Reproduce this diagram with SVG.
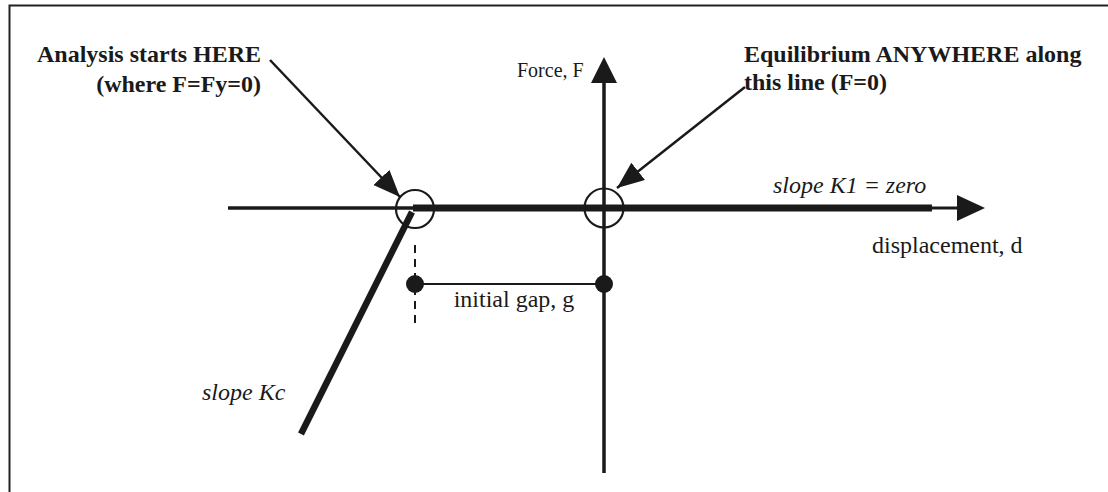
<svg xmlns="http://www.w3.org/2000/svg" width="1108" height="492" viewBox="0 0 1108 492">
<style>
.t{font-family:"Liberation Serif","Times New Roman",serif;fill:#1a1a1a;font-size:24px}
.b{font-weight:bold}
.i{font-style:italic}
.ax{stroke:#1a1a1a;fill:none}
.head{fill:#1a1a1a;stroke:none}
</style>
<defs>
<marker id="ah" markerUnits="userSpaceOnUse" markerWidth="30" markerHeight="24" refX="27" refY="11" orient="auto">
<path d="M0,0 L27,11 L0,22 Z" fill="#1a1a1a"/>
</marker>
</defs>
<rect width="1108" height="492" fill="#fff"/>
<path d="M9.5,492 V5.5 H1108" stroke="#222" stroke-width="2" fill="none"/>
<g id="axes">
<line class="ax" x1="228" y1="208" x2="413" y2="208" stroke-width="3.5"/>
<line class="ax" x1="413" y1="208" x2="932" y2="208" stroke-width="7"/>
<line class="ax" x1="930" y1="208" x2="962" y2="208" stroke-width="3"/>
<polygon class="head" points="957,195 985,208 957,221"/>
<line class="ax" x1="604" y1="78" x2="604" y2="473" stroke-width="3.5"/>
<polygon class="head" points="591,83 604,57 617,83"/>
</g>
<g id="slope-kc-line">
<line class="ax" x1="412" y1="212" x2="301" y2="434" stroke-width="6.5"/>
</g>
<g id="start-circle">
<circle cx="415" cy="209" r="19" stroke="#1a1a1a" stroke-width="2.2" fill="none"/>
</g>
<g id="origin-circle">
<circle cx="604" cy="208" r="19.5" stroke="#1a1a1a" stroke-width="2.2" fill="none"/>
</g>
<g id="gap">
<line x1="415" y1="245" x2="415" y2="323" stroke="#1a1a1a" stroke-width="2" stroke-dasharray="8,6"/>
<line x1="415" y1="284" x2="604" y2="284" stroke="#1a1a1a" stroke-width="2"/>
<circle cx="415" cy="284" r="9" fill="#1a1a1a"/>
<circle cx="604" cy="284" r="9" fill="#1a1a1a"/>
<text class="t" x="514" y="307" text-anchor="middle">initial gap, g</text>
</g>
<g id="connectors">
<line x1="270" y1="60" x2="400" y2="197" stroke="#1a1a1a" stroke-width="2.5" marker-end="url(#ah)"/>
<line x1="745" y1="87" x2="617" y2="188" stroke="#1a1a1a" stroke-width="2.5" marker-end="url(#ah)"/>
</g>
<g id="labels">
<text class="t b" x="261" y="62" text-anchor="end">Analysis starts HERE</text>
<text class="t b" x="261" y="92" text-anchor="end">(where F=Fy=0)</text>
<text class="t b" x="744" y="62">Equilibrium ANYWHERE along</text>
<text class="t b" x="744" y="90">this line (F=0)</text>
<text class="t" x="517" y="77" style="font-size:20px">Force, F</text>
<text class="t i" x="773" y="193">slope K1 = zero</text>
<text class="t" x="872" y="253">displacement, d</text>
<text class="t i" x="202" y="400">slope Kc</text>
</g>
</svg>
